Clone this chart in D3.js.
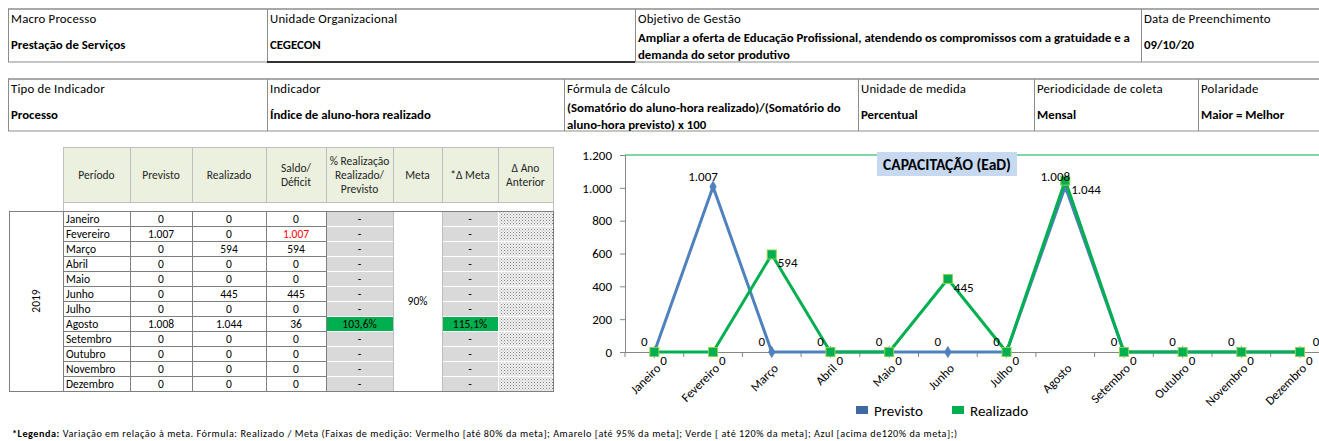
<!DOCTYPE html>
<html>
<head>
<meta charset="utf-8">
<script src="https://d3js.org/d3.v7.min.js"></script>
<style>
  body { margin: 0; background: #fff; }
  svg { display: block; font-family: Carlito, Calibri, Lato, sans-serif; }
</style>
</head>
<body>
<svg id="chart" width="1319" height="441"></svg>
<script>
// ---- data ----
const months = ["Janeiro", "Fevereiro", "Março", "Abril", "Maio", "Junho",
  "Julho", "Agosto", "Setembro", "Outubro", "Novembro", "Dezembro"];
const previsto  = [0, 1007, 0, 0, 0, 0, 0, 1008, 0, 0, 0, 0];
const realizado = [0, 0, 594, 0, 0, 445, 0, 1044, 0, 0, 0, 0];
const saldo     = [0, -1007, 594, 0, 0, 445, 0, 36, 0, 0, 0, 0];
const pctRealizacao = [null, null, null, null, null, null, null, 103.6, null, null, null, null];
const deltaMeta     = [null, null, null, null, null, null, null, 115.1, null, null, null, null];
const metaLabel = "90%";
const yearLabel = "2019";
const yTicks = [0, 200, 400, 600, 800, 1000, 1200];

const info1Labels = ["Macro Processo", "Unidade Organizacional", "Objetivo de Gestão", "Data de Preenchimento"];
const info1Values = [["Prestação de Serviços"], ["CEGECON"],
  ["Ampliar a oferta de Educação Profissional, atendendo os compromissos com a gratuidade e a", "demanda do setor produtivo"],
  ["09/10/20"]];
const info2Labels = ["Tipo de Indicador", "Indicador", "Fórmula  de Cálculo", "Unidade de medida", "Periodicidade de coleta", "Polaridade"];
const info2Values = [["Processo"], ["Índice de aluno-hora realizado"],
  ["(Somatório do aluno-hora realizado)/(Somatório do", "aluno-hora previsto) x 100"],
  ["Percentual"], ["Mensal"], ["Maior = Melhor"]];
const tableHeaders = [["Período"], ["Previsto"], ["Realizado"], ["Saldo/", "Déficit"],
  ["% Realização", "Realizado/", "Previsto"], ["Meta"], ["*Δ Meta"], ["Δ Ano", "Anterior"]];
const chartTitle = "CAPACITAÇÃO (EaD)";
const seriesNames = ["Previsto", "Realizado"];

const FONT = "Carlito, Calibri, Lato, sans-serif";
const pt = d3.formatLocale({decimal: ",", thousands: ".", grouping: [3], currency: ["R$", ""]});
const fmtInt = pt.format(",d");
const fmtPct = v => pt.format(",.1f")(v) + "%";

const svg = d3.select("#chart");

// dotted fill used by the "Δ Ano Anterior" column
const pat = svg.append("defs").append("pattern")
  .attr("id", "dots").attr("width", 3).attr("height", 3).attr("patternUnits", "userSpaceOnUse");
pat.append("rect").attr("width", 3).attr("height", 3).attr("fill", "#f2f2f2");
pat.append("rect").attr("width", 1).attr("height", 1).attr("fill", "#7f7f7f");
pat.append("rect").attr("x", 1.5).attr("y", 1.5).attr("width", 1).attr("height", 1).attr("fill", "#a6a6a6");

// ---- info tables at the top ----
const drawInfo = (edges, y0, y1, labels, values) => {
  const g = svg.append("g");
  g.append("line").attr("x1", edges[0]).attr("x2", 1319).attr("y1", y0).attr("y2", y0)
    .attr("stroke", "#8c8c8c").attr("stroke-width", 1.5);
  g.append("line").attr("x1", edges[0]).attr("x2", 1319).attr("y1", y1).attr("y2", y1)
    .attr("stroke", "#8c8c8c").attr("stroke-width", 1);
  edges.forEach(ex => {
    g.append("line").attr("x1", ex + 0.5).attr("x2", ex + 0.5).attr("y1", y0).attr("y2", y1)
      .attr("stroke", "#8c8c8c");
  });
  labels.forEach((lab, i) => {
    g.append("text").attr("x", edges[i] + 3).attr("y", y0 + 14)
      .attr("font-size", 12.8).attr("letter-spacing", 0.2).attr("fill", "#000").text(lab);
    const vals = values[i];
    vals.forEach((v, j) => {
      const yy = vals.length === 1 ? y0 + 40 : y0 + 33 + j * 17;
      g.append("text").attr("x", edges[i] + 3).attr("y", yy)
        .attr("font-size", 12.8).attr("font-weight", "bold").attr("fill", "#000").text(v);
    });
  });
  return g;
};
drawInfo([8, 267, 635, 1141], 9, 62, info1Labels, info1Values);
svg.append("line").attr("x1", 267).attr("x2", 635).attr("y1", 62).attr("y2", 62)
  .attr("stroke", "#000").attr("stroke-width", 1.5);
drawInfo([8, 267, 564, 858, 1034, 1198], 79, 131, info2Labels, info2Values);

// ---- data table ----
const colX = [63, 130, 192, 266, 326, 393, 442, 498, 553];
const headTop = 147, headBottom = 202, bodyTop = 211, rowH = 15;
const bodyBottom = bodyTop + months.length * rowH;
const tbl = svg.append("g").attr("font-size", 11.5);

tableHeaders.forEach((lines, c) => {
  tbl.append("rect").attr("x", colX[c] + 0.5).attr("y", headTop + 0.5)
    .attr("width", colX[c + 1] - colX[c]).attr("height", headBottom - headTop)
    .attr("fill", "#ebf1de").attr("stroke", "#bfbfbf");
  const mid = (colX[c] + colX[c + 1]) / 2;
  lines.forEach((ln, j) => {
    tbl.append("text").attr("x", mid)
      .attr("y", (headTop + headBottom) / 2 + (j - (lines.length - 1) / 2) * 14 + 4)
      .attr("text-anchor", "middle").attr("fill", "#262626").text(ln);
  });
});
tbl.append("rect").attr("x", colX[0] + 0.5).attr("y", headBottom + 0.5)
  .attr("width", colX[8] - colX[0]).attr("height", bodyTop - headBottom)
  .attr("fill", "#fff").attr("stroke", "#bfbfbf");

// year cell
tbl.append("rect").attr("x", 9.5).attr("y", bodyTop + 0.5).attr("width", colX[0] - 9)
  .attr("height", bodyBottom - bodyTop).attr("fill", "#fff").attr("stroke", "#7f7f7f");
tbl.append("text").attr("transform", `translate(${(9 + colX[0]) / 2 + 4},${(bodyTop + bodyBottom) / 2}) rotate(-90)`)
  .attr("text-anchor", "middle").attr("fill", "#000").text(yearLabel);

const rows = tbl.selectAll("g.row").data(months).join("g")
  .attr("class", "row")
  .attr("transform", (d, i) => `translate(0,${bodyTop + i * rowH})`);

rows.each(function (m, i) {
  const r = d3.select(this);
  const plain = [m, fmtInt(previsto[i]), fmtInt(realizado[i]), fmtInt(Math.abs(saldo[i]))];
  plain.forEach((txt, c) => {
    r.append("rect").attr("x", colX[c] + 0.5).attr("y", 0.5)
      .attr("width", colX[c + 1] - colX[c]).attr("height", rowH)
      .attr("fill", "#fff").attr("stroke", "#7f7f7f");
    r.append("text")
      .attr("x", c === 0 ? colX[c] + 3 : (colX[c] + colX[c + 1]) / 2)
      .attr("y", 11.5)
      .attr("text-anchor", c === 0 ? "start" : "middle")
      .attr("fill", c === 3 && saldo[i] < 0 ? "#ff0000" : "#000")
      .text(txt);
  });
  [[4, pctRealizacao[i]], [6, deltaMeta[i]]].forEach(([c, v]) => {
    r.append("rect").attr("x", colX[c] + 1).attr("y", 1)
      .attr("width", colX[c + 1] - colX[c] - 1).attr("height", rowH - 1)
      .attr("fill", v == null ? "#d9d9d9" : "#00b050");
    r.append("text").attr("x", (colX[c] + colX[c + 1]) / 2).attr("y", 11.5)
      .attr("text-anchor", "middle").attr("fill", "#000")
      .text(v == null ? "-" : fmtPct(v));
  });
  r.append("rect").attr("x", colX[7] + 1).attr("y", 1)
    .attr("width", colX[8] - colX[7] - 1).attr("height", rowH - 1)
    .attr("fill", "url(#dots)");
});

// merged meta cell
tbl.append("rect").attr("x", colX[5] + 0.5).attr("y", bodyTop + 0.5)
  .attr("width", colX[6] - colX[5]).attr("height", bodyBottom - bodyTop)
  .attr("fill", "#fff").attr("stroke", "#bfbfbf");
tbl.append("text").attr("x", (colX[5] + colX[6]) / 2).attr("y", (bodyTop + bodyBottom) / 2 + 4)
  .attr("text-anchor", "middle").attr("fill", "#000").text(metaLabel);
tbl.append("rect").attr("x", 9.5).attr("y", bodyTop + 0.5)
  .attr("width", colX[8] - 9).attr("height", bodyBottom - bodyTop)
  .attr("fill", "none").attr("stroke", "#7f7f7f");

// ---- line chart ----
const x = d3.scaleBand().domain(months).range([625, 625 + 12 * 58.7]);
const y = d3.scaleLinear().domain([0, 1200]).range([352, 155]);
const cx = m => x(m) + x.bandwidth() / 2;

svg.append("line").attr("x1", 625).attr("x2", 1319).attr("y1", y(1200)).attr("y2", y(1200))
  .attr("stroke", "#00b050").attr("stroke-width", 1);

const yAxis = svg.append("g").attr("transform", "translate(625,0)")
  .call(d3.axisLeft(y).tickValues(yTicks).tickFormat(fmtInt).tickSize(5).tickPadding(8));
yAxis.attr("font-family", FONT).attr("font-size", 13);
yAxis.select(".domain").attr("stroke", "#868686");
yAxis.selectAll(".tick line").attr("stroke", "#868686");
yAxis.selectAll(".tick text").attr("fill", "#000");

const xAxis = svg.append("g").attr("transform", `translate(0,${y(0)})`)
  .call(d3.axisBottom(x).tickSize(0));
xAxis.attr("font-family", FONT).attr("font-size", 12.5);
xAxis.select(".domain").attr("stroke", "#868686");
xAxis.selectAll(".tick text")
  .attr("y", 0).attr("dy", "0.35em").attr("fill", "#000")
  .attr("text-anchor", "end")
  .attr("transform", "translate(4,14) rotate(-45)");
xAxis.selectAll(".boundary").data(months.map(m => x(m)).concat([x.range()[1]]))
  .join("line").attr("class", "boundary")
  .attr("x1", d => d).attr("x2", d => d).attr("y1", 0).attr("y2", 5)
  .attr("stroke", "#868686");

const line = d3.line().x((d, i) => cx(months[i])).y(d => y(d));

// Previsto
svg.append("path").datum(previsto).attr("d", line)
  .attr("fill", "none").attr("stroke", "#4f81bd").attr("stroke-width", 3)
  .attr("stroke-linejoin", "round");
svg.selectAll(".mk-prev").data(previsto).join("path").attr("class", "mk-prev")
  .attr("transform", (d, i) => `translate(${cx(months[i])},${y(d)})`)
  .attr("d", d3.symbol(d3.symbolDiamond, 45))
  .attr("fill", "#4f81bd");

// Realizado
svg.append("path").datum(realizado).attr("d", line)
  .attr("fill", "none").attr("stroke", "#00b050").attr("stroke-width", 3)
  .attr("stroke-linejoin", "round");
svg.selectAll(".mk-real").data(realizado).join("rect").attr("class", "mk-real")
  .attr("x", (d, i) => cx(months[i]) - 4.5).attr("y", d => y(d) - 4.5)
  .attr("width", 9).attr("height", 9)
  .attr("fill", "#00b050").attr("stroke", "#92d050").attr("stroke-width", 1);

// data labels (the last Previsto label sits right of its point, as in the source)
const last = months.length - 1;
const lbl = svg.append("g").attr("font-size", 13).attr("fill", "#000");
lbl.selectAll(".lb-prev").data(previsto).join("text").attr("class", "lb-prev")
  .attr("x", (d, i) => cx(months[i]) + (i === last ? 16 : -10)).attr("y", d => y(d) - 6)
  .attr("text-anchor", "middle").text(d => fmtInt(d));
lbl.selectAll(".lb-real").data(realizado).join("text").attr("class", "lb-real")
  .attr("x", (d, i) => cx(months[i]) + 6).attr("y", d => y(d) + 13)
  .attr("text-anchor", "start").text(d => fmtInt(d));

// chart title box
svg.append("rect").attr("x", 877).attr("y", 152).attr("width", 140).attr("height", 24)
  .attr("fill", "#c6d9f1");
svg.append("text").attr("x", 947).attr("y", 170).attr("text-anchor", "middle")
  .attr("font-size", 15.5).attr("font-weight", "bold").attr("fill", "#000").text(chartTitle);

// legend
const legColors = ["#3e69a3", "#00b050"];
const legX = [856, 952];
seriesNames.forEach((s, i) => {
  svg.append("rect").attr("x", legX[i]).attr("y", 406).attr("width", 12).attr("height", 8)
    .attr("fill", legColors[i]);
  svg.append("text").attr("x", legX[i] + 18).attr("y", 416).attr("font-size", 15)
    .attr("fill", "#000").text(s);
});

// footnote
const foot = svg.append("text").attr("x", 12).attr("y", 437).attr("font-size", 10.2)
  .attr("textLength", 945).attr("lengthAdjust", "spacing").attr("fill", "#000");
foot.append("tspan").attr("font-weight", "bold").text("*Legenda:");
foot.append("tspan").text(" Variação em relação à meta. Fórmula: Realizado / Meta (Faixas de medição: Vermelho [até 80% da meta]; Amarelo [até 95% da meta]; Verde [ até 120% da meta]; Azul [acima de120% da meta];)");
</script>
</body>
</html>
